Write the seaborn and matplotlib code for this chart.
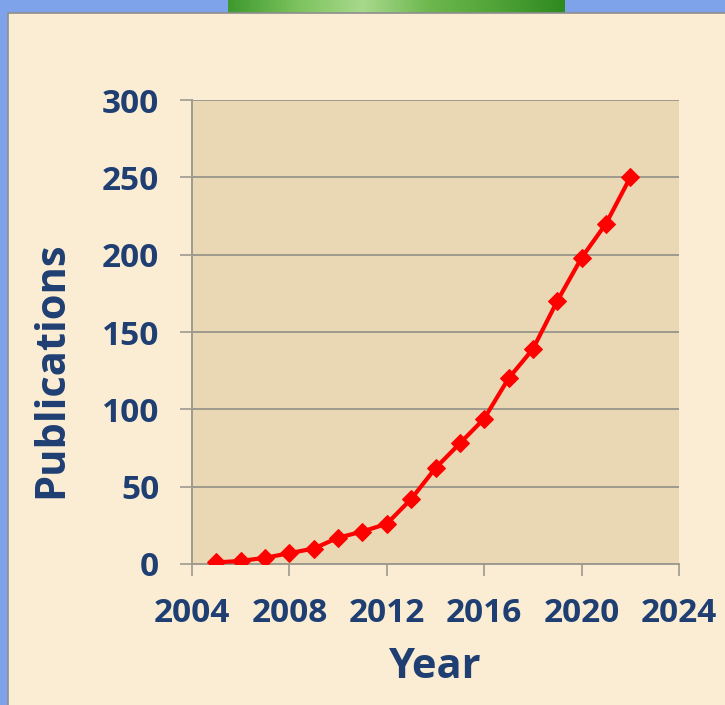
import matplotlib
matplotlib.use("Agg")
import matplotlib.pyplot as plt
import seaborn as sns
import pandas as pd
import numpy as np
from matplotlib.patches import Rectangle
from matplotlib.colors import LinearSegmentedColormap

years = [2005, 2006, 2007, 2008, 2009, 2010, 2011, 2012, 2013,
         2014, 2015, 2016, 2017, 2018, 2019, 2020, 2021, 2022]
publications = [1, 2, 4, 7, 10, 17, 21, 26, 42,
                62, 78, 94, 120, 139, 170, 198, 220, 250]
x_ticks = [2004, 2008, 2012, 2016, 2020, 2024]
y_ticks = [0, 50, 100, 150, 200, 250, 300]

sns.set_style("white")
plt.rcParams['font.family'] = ['Open Sans', 'DejaVu Sans']
plt.rcParams['font.weight'] = 'bold'

text_color = "#1F3F73"
grid_color = "#9E9A8E"

fig = plt.figure(figsize=(7.25, 7.05), dpi=100)
fig.patch.set_facecolor("#7EA3EA")

# green gradient shape at top (decoration)
gax = fig.add_axes([228/725, 1 - 14/705, 337/725, 14/705], zorder=-3)
gax.set_axis_off()
green_cmap = LinearSegmentedColormap.from_list(
    "g", ["#3E9A2E", "#7BC25C", "#A8D98C", "#6DB74E", "#4FA337", "#2F8A1F"])
gax.imshow(np.linspace(0, 1, 200)[None, :], aspect="auto", cmap=green_cmap,
           extent=[0, 1, 0, 1])
gax.set_xlim(0, 1)
gax.set_ylim(0, 1)

# parchment panel
fig.patches.append(Rectangle((8/725, -0.01), 1.0, 1 - 13/705 + 0.01, transform=fig.transFigure,
                             facecolor="#FBEDD3", edgecolor="#8E8E8E", linewidth=1.2, zorder=-2))

ax = fig.add_axes([192/725, 1 - 564/705, 487/725, 464/705])
ax.set_facecolor("#EAD7B4")

df = pd.DataFrame({"Year": years, "Publications": publications})
sns.lineplot(data=df, x="Year", y="Publications", ax=ax, color="#FF0000",
             linewidth=3, marker="D", markersize=9, markeredgecolor="#FF0000",
             zorder=5)

ax.set_xlim(2004, 2024)
ax.set_ylim(0, 300)
ax.set_xticks(x_ticks)
ax.set_yticks(y_ticks)
ax.set_xticklabels([str(v) for v in x_ticks])
ax.set_yticklabels([str(v) for v in y_ticks])

ax.yaxis.grid(True, color=grid_color, linewidth=1.4)
ax.xaxis.grid(False)
ax.set_axisbelow(True)

for s in ["top", "right"]:
    ax.spines[s].set_visible(False)
for s in ["left", "bottom"]:
    ax.spines[s].set_color(grid_color)
    ax.spines[s].set_linewidth(1.4)

ax.tick_params(axis="both", which="major", direction="out", length=8.5, width=1.2,
               color=grid_color, labelsize=24, labelcolor=text_color, pad=15)
ax.tick_params(axis="x", bottom=True)
ax.tick_params(axis="y", left=True)
for lab in ax.get_xticklabels() + ax.get_yticklabels():
    lab.set_fontweight("bold")

ax.set_xlabel("Year", fontsize=30, fontweight="bold", color=text_color,
              va="center")
ax.xaxis.set_label_coords((435 - 192) / 487, (564 - 668) / 464)
ax.set_ylabel("Publications", fontsize=30, fontweight="bold", color=text_color,
              va="center")
ax.yaxis.set_label_coords((52 - 192) / 487, (564 - 370) / 464)

fig.savefig("out.png", dpi=100, facecolor=fig.get_facecolor())
